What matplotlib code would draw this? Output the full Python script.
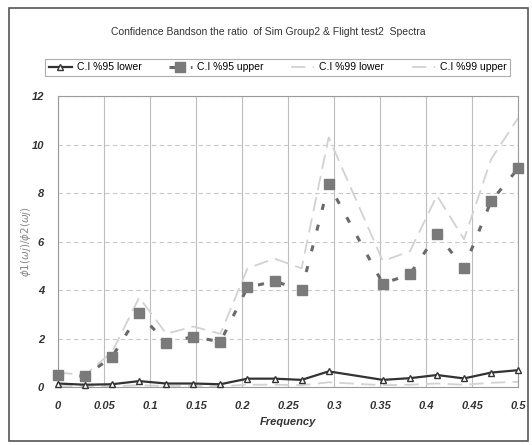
import numpy as np
import matplotlib
matplotlib.use("Agg")
import matplotlib.pyplot as plt
from matplotlib.patches import Rectangle

# frequency points k/34, the point at 11/34 is missing in every series
freq = [0, 1/34, 2/34, 3/34, 4/34, 5/34, 6/34, 7/34, 8/34, 9/34, 10/34,
        12/34, 13/34, 14/34, 15/34, 16/34, 17/34]

lower95 = [0.15, 0.10, 0.12, 0.25, 0.15, 0.15, 0.12, 0.35, 0.35, 0.30, 0.65,
           0.30, 0.37, 0.50, 0.36, 0.60, 0.70]
upper95 = [0.50, 0.45, 1.25, 3.04, 1.84, 2.08, 1.87, 4.11, 4.37, 4.00, 8.37,
           4.27, 4.65, 6.31, 4.92, 7.67, 9.02]
lower99 = [0.05, 0.03, 0.04, 0.08, 0.05, 0.05, 0.04, 0.10, 0.10, 0.08, 0.20,
           0.08, 0.10, 0.15, 0.10, 0.18, 0.22]
upper99 = [0.60, 0.50, 1.45, 3.70, 2.20, 2.50, 2.20, 4.90, 5.30, 4.90, 10.3,
           5.20, 5.60, 7.90, 6.10, 9.40, 11.1]

xticks = [0, 0.05, 0.1, 0.15, 0.2, 0.25, 0.3, 0.35, 0.4, 0.45, 0.5]
yticks = [0, 2, 4, 6, 8, 10, 12]

fig = plt.figure(figsize=(5.32, 4.45), dpi=100)
fig.patch.set_facecolor("white")

# outer chart frame
fig.patches.append(Rectangle((0.016, 0.01), 0.976, 0.972, transform=fig.transFigure,
                             fill=False, edgecolor="#555555", linewidth=1.2))

ax = fig.add_axes([0.109, 0.130, 0.865, 0.654])

ax.plot(freq, upper99, color="#d2d2d2", linestyle=(0, (8, 4)), linewidth=1.3,
        label="C.I %99 upper", zorder=2)
ax.plot(freq, lower99, color="#d2d2d2", linestyle=(0, (8, 4)), linewidth=1.3,
        label="C.I %99 lower", zorder=2)
ax.plot(freq, upper95, color="#6a6a6a", linestyle=(0, (2, 5)), linewidth=2.2,
        marker="s", markersize=7, markerfacecolor="#7a7a7a", markeredgecolor="#7a7a7a",
        label="C.I %95 upper", zorder=3, clip_on=False)
ax.plot(freq, lower95, color="#333333", linestyle="-", linewidth=1.6,
        marker="^", markersize=5, markerfacecolor="white", markeredgecolor="#333333",
        label="C.I %95 lower", zorder=4, clip_on=False)

ax.set_xlim(0, 0.5)
ax.set_ylim(0, 12)
ax.set_xticks(xticks)
ax.set_xticklabels([f"{t:g}" for t in xticks])
ax.set_yticks(yticks)

ax.grid(axis="x", color="#bdbdbd", linewidth=0.8, linestyle="-")
ax.grid(axis="y", color="#c8c8c8", linewidth=0.8, linestyle=(0, (4, 3)))
ax.set_axisbelow(True)
for s in ax.spines.values():
    s.set_color("#9a9a9a")
    s.set_linewidth(0.8)
ax.tick_params(length=0, pad=10, labelsize=8, colors="#333333")
for lab in ax.get_xticklabels() + ax.get_yticklabels():
    lab.set_fontstyle("italic")
    lab.set_fontweight("bold")
    lab.set_fontfamily("Liberation Sans")

ax.set_xlabel("Frequency", fontsize=8, fontstyle="italic", fontweight="bold",
              family="Liberation Sans", color="#333333", labelpad=4)
ax.set_ylabel(r"$\phi1(\omega j)/\phi2(\omega j)$", fontsize=7.5, color="#888888")
ax.yaxis.set_label_coords(-0.055, 0.5)

fig.text(0.505, 0.928, "Confidence Bandson the ratio  of Sim Group2 & Flight test2  Spectra",
         ha="center", va="center", fontsize=7.5, family="Liberation Sans", color="#333333")

h, l = ax.get_legend_handles_labels()
order = [3, 2, 1, 0]
leg = fig.legend([h[i] for i in order], [l[i] for i in order], loc="center",
                 bbox_to_anchor=(45 / 532, 1 - 80 / 445, 465 / 532, 25 / 445),
                 mode="expand", ncol=4, frameon=True, fancybox=False,
                 prop={"family": "Liberation Sans", "size": 7.5},
                 handlelength=2.2, borderpad=0.35, handletextpad=0.5, borderaxespad=0)
leg.get_frame().set_edgecolor("#9a9a9a")
leg.get_frame().set_linewidth(0.8)

fig.savefig("out.png", dpi=100)
